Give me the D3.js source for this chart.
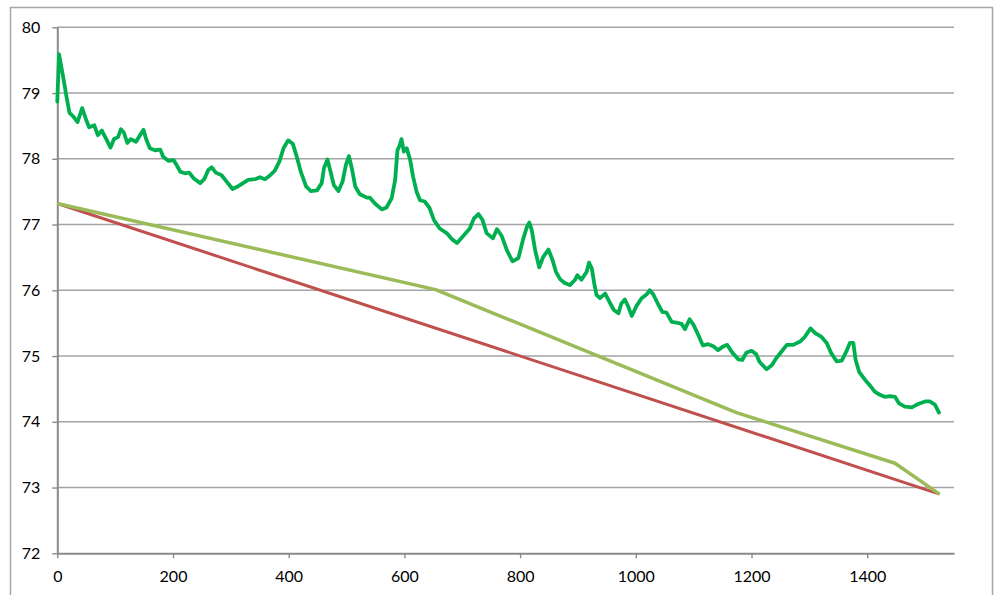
<!DOCTYPE html>
<html>
<head>
<meta charset="utf-8">
<script src="https://cdn.jsdelivr.net/npm/d3@7"></script>
<style>
  body { margin: 0; background: #fff; }
  svg text { font-family: Lato, "Open Sans", sans-serif; font-size: 16px; fill: #000; }
</style>
</head>
<body>
<svg id="chart" width="998" height="595"></svg>
<script>
// measured series
const greenX = [0,3,10,16,21,27,35,43,50,55,64,70,77,84,92,98,105,110,115,121,127,136,143,149,154,160,169,178,183,192,201,206,213,221,228,236,247,254,261,267,274,284,293,303,310,319,330,342,350,359,368,376,384,391,399,407,413,421,430,438,449,457,461,467,473,478,486,493,499,504,509,515,523,535,540,549,561,569,578,584,588,592,595,599,604,610,615,621,627,635,643,651,661,673,683,691,702,713,720,728,735,742,753,760,768,777,787,797,805,812,816,820,826,833,840,849,856,862,869,877,886,895,899,906,915,919,924,928,932,938,947,954,962,970,975,981,987,993,1001,1010,1019,1024,1030,1039,1046,1053,1062,1070,1079,1085,1093,1100,1108,1116,1125,1134,1142,1150,1158,1167,1177,1184,1191,1200,1208,1214,1226,1235,1243,1252,1261,1272,1284,1292,1302,1310,1321,1330,1338,1347,1356,1364,1370,1376,1380,1386,1396,1405,1413,1422,1430,1439,1448,1455,1465,1477,1488,1500,1508,1517,1524];
const greenY = [78.87,79.59,79.25,78.94,78.70,78.65,78.56,78.77,78.59,78.48,78.51,78.36,78.43,78.31,78.17,78.30,78.33,78.45,78.40,78.24,78.30,78.26,78.36,78.44,78.29,78.16,78.13,78.14,78.03,77.97,77.98,77.91,77.80,77.78,77.79,77.70,77.63,77.69,77.83,77.87,77.79,77.75,77.65,77.54,77.57,77.62,77.68,77.69,77.72,77.69,77.75,77.82,77.96,78.16,78.28,78.23,78.06,77.80,77.58,77.51,77.52,77.63,77.86,77.99,77.78,77.60,77.51,77.65,77.91,78.04,77.86,77.58,77.46,77.41,77.41,77.32,77.23,77.26,77.40,77.68,78.13,78.21,78.30,78.11,78.16,77.98,77.73,77.50,77.37,77.35,77.26,77.07,76.94,76.87,76.77,76.72,76.83,76.94,77.09,77.16,77.07,76.87,76.79,76.93,76.83,76.61,76.44,76.49,76.77,76.97,77.03,76.92,76.61,76.35,76.51,76.62,76.46,76.28,76.17,76.11,76.08,76.16,76.23,76.16,76.28,76.42,76.33,76.11,75.93,75.88,75.95,75.83,75.70,75.65,75.80,75.86,75.75,75.61,75.76,75.88,75.94,76.00,75.94,75.78,75.67,75.66,75.52,75.51,75.49,75.41,75.56,75.47,75.32,75.16,75.18,75.15,75.09,75.14,75.17,75.05,74.95,74.94,75.05,75.08,75.03,74.91,74.80,74.86,74.97,75.07,75.17,75.17,75.22,75.29,75.42,75.35,75.29,75.20,75.04,74.92,74.93,75.07,75.20,75.20,74.94,74.76,74.64,74.55,74.46,74.41,74.38,74.39,74.38,74.28,74.23,74.22,74.27,74.31,74.31,74.26,74.14];

const oliveX = [0, 654, 1174, 1448, 1525];
const oliveY = [77.32, 76.01, 74.14, 73.37, 72.90];

const redX = [0, 1525];
const redY = [77.32, 72.90];

const xTicks = [0, 200, 400, 600, 800, 1000, 1200, 1400];
const yTicks = [72, 73, 74, 75, 76, 77, 78, 79, 80];

const svg = d3.select("#chart");

// outer chart frame
svg.append("rect")
  .attr("x", 10.5).attr("y", 7.5)
  .attr("width", 982).attr("height", 620)
  .attr("fill", "#fff")
  .attr("stroke", "#a6a6a6")
  .attr("stroke-width", 1.5);

const plotLeft = 57.3, plotRight = 954, plotTop = 27.3, plotBottom = 553.3;

const x = d3.scaleLinear().domain([0, 1550]).range([plotLeft, plotRight]);
const y = d3.scaleLinear().domain([72, 80]).range([plotBottom, plotTop]);

// gridlines
svg.append("g")
  .selectAll("line")
  .data(yTicks.filter(d => d > 72))
  .enter().append("line")
  .attr("x1", plotLeft).attr("x2", plotRight)
  .attr("y1", d => y(d)).attr("y2", d => y(d))
  .attr("stroke", "#a3a3a3")
  .attr("stroke-width", 1.4);

// y axis
const yAxis = svg.append("g")
  .attr("transform", "translate(" + plotLeft + ",0)")
  .call(d3.axisLeft(y).tickValues(yTicks).tickSize(5).tickPadding(12).tickFormat(d3.format("d")).tickSizeOuter(0));
yAxis.select(".domain").attr("stroke", "#8a8a8a").attr("stroke-width", 2);
yAxis.selectAll(".tick line").attr("stroke", "#8a8a8a").attr("stroke-width", 1.4);
yAxis.selectAll("text").attr("font-size", 16).attr("font-family", "Lato, 'Open Sans', sans-serif");

// x axis
const xAxis = svg.append("g")
  .attr("transform", "translate(0," + plotBottom + ")")
  .call(d3.axisBottom(x).tickValues(xTicks).tickSize(5).tickPadding(12).tickFormat(d3.format("d")).tickSizeOuter(0));
xAxis.select(".domain").attr("stroke", "#8a8a8a").attr("stroke-width", 2);
xAxis.selectAll(".tick line").attr("stroke", "#8a8a8a").attr("stroke-width", 1.4);
xAxis.selectAll("text").attr("font-size", 16).attr("font-family", "Lato, 'Open Sans', sans-serif");

const line = d3.line()
  .x(d => x(d[0]))
  .y(d => y(d[1]));

svg.append("path")
  .datum(d3.zip(redX, redY))
  .attr("fill", "none")
  .attr("stroke", "#c0504d")
  .attr("stroke-width", 3)
  .attr("d", line);

svg.append("path")
  .datum(d3.zip(oliveX, oliveY))
  .attr("fill", "none")
  .attr("stroke", "#9bbb59")
  .attr("stroke-width", 3.5)
  .attr("stroke-linejoin", "round")
  .attr("d", line);

svg.append("path")
  .datum(d3.zip(greenX, greenY))
  .attr("fill", "none")
  .attr("stroke", "#00b050")
  .attr("stroke-width", 3.8)
  .attr("stroke-linejoin", "round")
  .attr("stroke-linecap", "round")
  .attr("d", line);
</script>
</body>
</html>
